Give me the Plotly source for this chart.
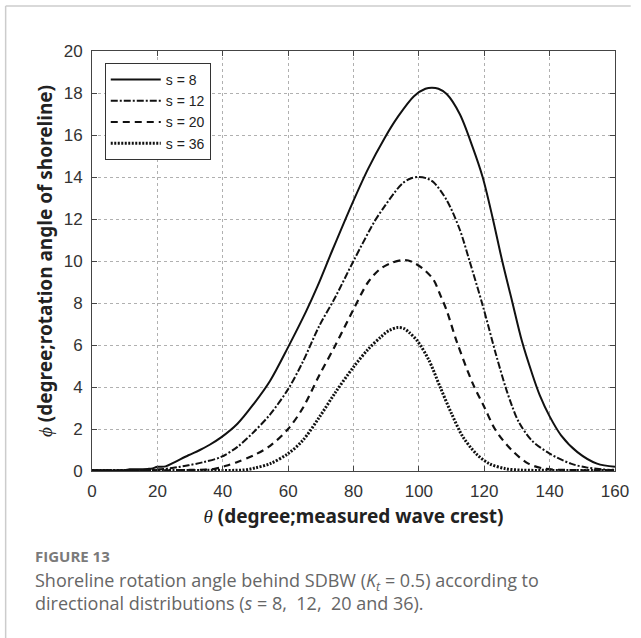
import plotly.graph_objects as go

# ---------------- data ----------------
series_names = ["s = 8", "s = 12", "s = 20", "s = 36"]

theta_s8 = [0, 5, 10, 11.5, 14, 17, 18.5, 20, 22.5, 25, 29.5, 33, 36, 39.5, 44.5, 49.5,
            54.5, 60, 65.5, 69, 73.5, 79.5, 84.5, 89.5, 93.5, 98.5, 102, 104, 106, 108.5,
            112.5, 116.5, 119.5, 122.5, 125.5, 128.5, 131.5, 134.5, 137, 140, 143.5,
            148.5, 154.5, 160]
phi_s8 = [0.03, 0.03, 0.03, 0.08, 0.08, 0.1, 0.12, 0.2, 0.22, 0.4, 0.75, 1.0, 1.25, 1.6,
          2.25, 3.2, 4.3, 5.9, 7.6, 8.8, 10.5, 12.7, 14.4, 15.85, 16.85, 17.85, 18.2,
          18.25, 18.2, 17.95, 17.0, 15.4, 14.0, 12.1, 10.0, 8.1, 6.2, 4.7, 3.6, 2.6,
          1.7, 0.9, 0.35, 0.2]

theta_s12 = [0, 10, 18, 22.5, 26, 29.5, 34, 39.5, 44.5, 49.5, 54.5, 60, 64.5, 69.5,
             74.5, 80, 86.5, 89.5, 92.5, 95, 97.5, 100, 102.5, 104.5, 108.5, 112.5, 115.5,
             119.5, 123.5, 126.5, 128.5, 130.5, 134.5, 140, 146.5, 151.5, 156, 160]
phi_s12 = [0.02, 0.03, 0.05, 0.1, 0.18, 0.27, 0.42, 0.67, 1.15, 1.86, 2.7, 3.9, 5.2,
           6.9, 8.3, 10.0, 11.9, 12.6, 13.25, 13.7, 13.93, 14.0, 13.93, 13.75, 12.9, 11.5,
           10.0, 7.9, 5.6, 4.0, 3.1, 2.35, 1.46, 0.83, 0.35, 0.16, 0.08, 0.03]

theta_s20 = [0, 20, 30, 37.5, 41, 44.5, 49.5, 54.5, 60, 64.5, 69.5, 74.5, 80, 84.5, 88,
             91.5, 95.5, 98, 101.5, 104.5, 106.5, 108.5, 111.5, 116.5, 120, 123.5,
             128.5, 133.5, 138.5, 145, 160]
phi_s20 = [0.02, 0.03, 0.05, 0.1, 0.25, 0.43, 0.75, 1.2, 2.0, 3.0, 4.55, 6.0, 7.7, 9.0,
           9.6, 9.9, 10.05, 9.95, 9.6, 9.1, 8.4, 7.65, 6.2, 4.16, 3.05, 1.94, 0.98,
           0.35, 0.11, 0.05, 0.03]

theta_s36 = [0, 20, 35, 46.5, 50, 54.5, 60, 64.5, 69.5, 74.5, 80, 84.5, 88.5, 91, 93.5,
             95.5, 97, 99.5, 103, 106.5, 110, 113.5, 117.5, 121.5, 126.5, 131.5, 140, 160]
phi_s36 = [0.02, 0.03, 0.03, 0.05, 0.15, 0.35, 0.83, 1.46, 2.55, 3.75, 4.95, 5.8, 6.4,
           6.7, 6.83, 6.78, 6.6, 6.2, 5.3, 4.0, 2.73, 1.62, 0.83, 0.35, 0.11, 0.04,
           0.03, 0.03]

x_ticks = [0, 20, 40, 60, 80, 100, 120, 140, 160]
y_ticks = [0, 2, 4, 6, 8, 10, 12, 14, 16, 18, 20]

# ---------------- figure ----------------
W, H = 641, 638
ML, MR, MT, MB = 92, 16, 51, 167
PW, PH = W - ML - MR, H - MT - MB


def px(xpix):
    return (xpix - ML) / PW


def py(ypix):
    return (H - MB - ypix) / PH


styles = [
    dict(dash="solid", width=2),
    dict(dash="7px,2px,2px,2px", width=2),
    dict(dash="7px,5px", width=2.2),
    dict(dash="2px,1.5px", width=3),
]
thetas = [theta_s8, theta_s12, theta_s20, theta_s36]
phis = [phi_s8, phi_s12, phi_s20, phi_s36]

fig = go.Figure()
for name, th, ph, st in zip(series_names, thetas, phis, styles):
    fig.add_trace(go.Scatter(
        x=th, y=ph, mode="lines", name=name,
        line=dict(color="#111111", width=st["width"], dash=st["dash"], shape="spline",
                  smoothing=0.9),
    ))

tick_font = dict(family="Liberation Sans, Arial, sans-serif", size=17, color="#333333")
axis_common = dict(
    showline=True, linecolor="#444444", linewidth=1, mirror="ticks",
    ticks="inside", ticklen=5, tickcolor="#444444",
    showgrid=True, gridcolor="#b0b0b0", gridwidth=1, griddash="dot",
    zeroline=False, ticklabelstandoff=5,
)

serif = "font-family:'Liberation Serif','DejaVu Serif',serif;font-weight:normal"
title_font = dict(family="Noto Sans, Open Sans, sans-serif", size=19, color="#222222",
                  weight="bold")

fig.update_layout(
    width=W, height=H,
    margin=dict(l=ML, r=MR, t=MT, b=MB, pad=0),
    paper_bgcolor="white", plot_bgcolor="white",
    showlegend=True,
    legend=dict(
        x=px(105), y=py(63), xanchor="left", yanchor="top",
        bgcolor="white", bordercolor="#333333", borderwidth=1,
        font=dict(family="Liberation Sans, Arial, sans-serif", size=14, color="#222222"),
        tracegroupgap=0, itemwidth=50,
    ),
    xaxis=dict(
        range=[0, 160], tickvals=x_ticks, ticktext=[str(v) for v in x_ticks],
        tickfont=tick_font,
        title=dict(
            text=f"<span style=\"{serif}\"><i>θ</i></span> (degree;measured wave crest)",
            font=title_font, standoff=9,
        ),
        **axis_common,
    ),
    yaxis=dict(
        range=[0, 20], tickvals=y_ticks, ticktext=[str(v) for v in y_ticks],
        tickfont=tick_font,
        title=dict(
            text=f"<span style=\"{serif}\"><i>ϕ</i></span> (degree;rotation angle of shoreline)",
            font=title_font, standoff=6,
        ),
        **axis_common,
    ),
)

# outer panel border (top and left thin grey lines)
fig.add_shape(type="line", xref="paper", yref="paper",
              x0=px(4), y0=py(6), x1=px(641), y1=py(6),
              line=dict(color="#cccccc", width=1.5))
fig.add_shape(type="line", xref="paper", yref="paper",
              x0=px(4), y0=py(6), x1=px(4), y1=py(638),
              line=dict(color="#cccccc", width=1.5))

cap_font = "Open Sans, Lato, sans-serif"
fig.add_annotation(
    xref="paper", yref="paper", x=px(32), y=py(556), xanchor="left", yanchor="middle",
    text="<b>FIGURE 13</b>", showarrow=False,
    font=dict(family=cap_font, size=15, color="#7a7a7a"),
)
fig.add_annotation(
    xref="paper", yref="paper", x=px(32), y=py(591.5), xanchor="left", yanchor="middle",
    align="left",
    text=("Shoreline rotation angle behind SDBW (<i>K</i><sub><i>t</i></sub> = 0.5) according to"
          "<br>directional distributions (<i>s</i> = 8,  12,  20 and 36)."),
    showarrow=False, font=dict(family=cap_font, size=18, color="#666666"),
)

fig.write_html(
    "out.html",
    post_script="document.body.style.margin='0';document.body.style.overflow='hidden';",
)
